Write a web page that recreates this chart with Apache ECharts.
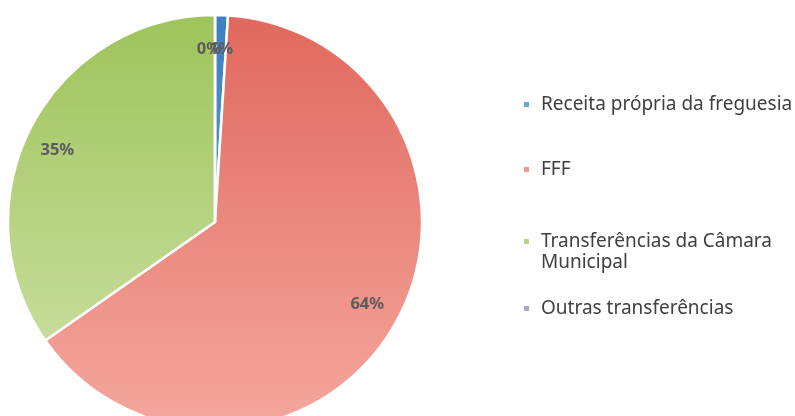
<!DOCTYPE html>
<html>
<head>
<meta charset="utf-8">
<script src="https://cdn.jsdelivr.net/npm/echarts@6/dist/echarts.min.js"></script>
<style>
  html, body { margin: 0; padding: 0; background: #fff; }
  #chart { width: 795px; height: 416px; }
</style>
</head>
<body>
<div id="chart"></div>
<script>
// categorias e valores (%)
const categories = ['Receita própria da freguesia', 'FFF', 'Transferências da Câmara Municipal', 'Outras transferências'];
const values = [1.0, 64.3, 34.7, 0];
const legendLabels = ['Receita própria da freguesia', 'FFF', '\nTransferências da Câmara\nMunicipal', 'Outras transferências'];

const sliceColors = [
  new echarts.graphic.LinearGradient(0, 0, 0, 1, [{ offset: 0, color: '#3f7fc0' }, { offset: 1, color: '#5b95cf' }]),
  new echarts.graphic.LinearGradient(0, 0, 0, 1, [{ offset: 0, color: '#e0685e' }, { offset: 1, color: '#f5a89e' }]),
  new echarts.graphic.LinearGradient(0, 0, 0, 1, [{ offset: 0, color: '#9ec35b' }, { offset: 1, color: '#c6dd9a' }]),
  '#8e8cb8'
];
const legendColors = ['#6fa6d6', '#f09a92', '#b7d384', '#a9a8c8'];
const legendTops = [94, 159, 210, 298];

const chart = echarts.init(document.getElementById('chart'));

const pieData = categories.map((name, i) => ({
  name: name,
  value: values[i],
  itemStyle: { color: sliceColors[i] }
}));

// uma legenda por item (posicao vertical irregular como no original)
const legends = categories.map((name, i) => ({
  data: [{ name: name, itemStyle: { color: legendColors[i] } }],
  left: 522,
  top: legendTops[i],
  padding: 0,
  icon: 'rect',
  itemWidth: 7,
  itemHeight: 7,
  itemGap: 0,
  selectedMode: false,
  formatter: () => legendLabels[i],
  textStyle: {
    fontFamily: 'Noto Sans',
    fontSize: 19,
    color: '#404040',
    lineHeight: 21,
    padding: [0, 0, 0, 6]
  }
}));

const option = {
  animation: false,
  legend: legends,
  series: [
    {
      type: 'pie',
      center: [215, 222],
      radius: [0, 207],
      startAngle: 90,
      clockwise: true,
      label: { show: false },
      labelLine: { show: false },
      itemStyle: { borderColor: '#fff', borderWidth: 2.5 },
      data: pieData
    },
    {
      // serie transparente so para colocar os rotulos a ~82% do raio
      type: 'pie',
      silent: true,
      center: [215, 222],
      radius: [140, 200],
      startAngle: 90,
      clockwise: true,
      minAngle: 4,
      legendHoverLink: false,
      itemStyle: { color: 'rgba(0,0,0,0)' },
      labelLayout: { hideOverlap: false },
      label: {
        show: true,
        position: 'inside',
        formatter: p => Math.round(values[p.dataIndex]) + '%',
        fontFamily: 'Noto Sans',
        fontSize: 16.5,
        fontWeight: 'bold',
        color: '#5c5c5c'
      },
      labelLine: { show: false },
      data: categories.map((name, i) => ({ name: name + ' ', value: values[i] }))
    }
  ]
};

chart.setOption(option);
</script>
</body>
</html>
